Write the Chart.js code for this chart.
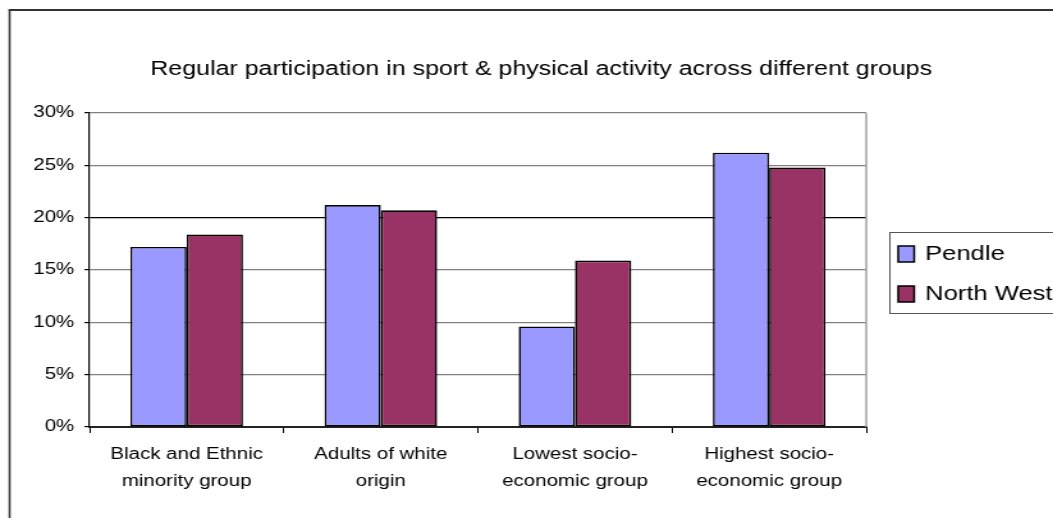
<!DOCTYPE html>
<html>
<head>
<meta charset="utf-8">
<script src="https://cdn.jsdelivr.net/npm/chart.js@4"></script>
<style>
  html, body { margin: 0; padding: 0; background: #fff; overflow: hidden; }
  /* the whole chart is laid out narrow and stretched sideways, like the old wide Excel text */
  #wrap { width: 823px; height: 518px; transform: scaleX(1.2795); transform-origin: 0 0; }
</style>
</head>
<body>
<div id="wrap"><canvas id="chart" width="823" height="518"></canvas></div>
<script>
const chartTitle = 'Regular participation in sport & physical activity across different groups';
const groups = [
  ['Black and Ethnic', 'minority group'],
  ['Adults of white', 'origin'],
  ['Lowest socio-', 'economic group'],
  ['Highest socio-', 'economic group']
];
const seriesNames = ['Pendle', 'North West'];
const seriesColors = ['#9999FF', '#993366'];
const pendle = [17.2, 21.2, 9.6, 26.2];
const northWest = [18.4, 20.7, 15.9, 24.8];
const yMax = 30;
const yStep = 5;

Chart.defaults.font.family = '"Liberation Sans", Arial, sans-serif';
Chart.defaults.color = '#000';

// outer frame, title, legend box and the grey right edge of the plot
const frame = {
  id: 'frame',
  beforeDraw(chart) {
    const ctx = chart.ctx;
    ctx.save();
    ctx.fillStyle = '#fff';
    ctx.fillRect(0, 0, chart.width, chart.height);
    ctx.strokeStyle = '#333';
    ctx.lineWidth = 1.6;
    ctx.beginPath();
    ctx.moveTo(7.5, chart.height + 5);
    ctx.lineTo(7.5, 10);
    ctx.stroke();
    ctx.lineWidth = 2;
    ctx.beginPath();
    ctx.moveTo(6.7, 10);
    ctx.lineTo(chart.width + 5, 10);
    ctx.stroke();
    ctx.restore();
  },
  beforeDatasetsDraw(chart) {
    const ctx = chart.ctx;
    const a = chart.chartArea;
    ctx.save();
    ctx.strokeStyle = '#a0a0a0';
    ctx.lineWidth = 1.5;
    ctx.beginPath();
    ctx.moveTo(a.right, a.top);
    ctx.lineTo(a.right, a.bottom);
    ctx.stroke();
    ctx.restore();
  },
  afterDraw(chart) {
    const ctx = chart.ctx;
    ctx.save();
    ctx.fillStyle = '#000';
    ctx.font = '19.5px "Liberation Sans", Arial, sans-serif';
    ctx.textAlign = 'center';
    ctx.textBaseline = 'middle';
    ctx.fillText(chartTitle, 423, 70);

    // legend
    ctx.strokeStyle = '#555';
    ctx.lineWidth = 1;
    ctx.strokeRect(695.5, 232.5, 260, 81);
    ctx.font = '20px "Liberation Sans", Arial, sans-serif';
    ctx.textAlign = 'left';
    const rows = [254, 294];
    chart.data.datasets.forEach((ds, i) => {
      ctx.fillStyle = ds.backgroundColor;
      ctx.fillRect(702, rows[i] - 8, 12.5, 16);
      ctx.strokeStyle = '#000';
      ctx.lineWidth = 1.5;
      ctx.strokeRect(702, rows[i] - 8, 12.5, 16);
      ctx.fillStyle = '#000';
      ctx.fillText(ds.label, 723, rows[i]);
    });
    ctx.restore();
  }
};

new Chart(document.getElementById('chart'), {
  type: 'bar',
  data: {
    labels: groups,
    datasets: [
      {
        label: seriesNames[0],
        data: pendle,
        backgroundColor: seriesColors[0],
        borderColor: '#000',
        borderWidth: 1.6,
        borderSkipped: false
      },
      {
        label: seriesNames[1],
        data: northWest,
        backgroundColor: seriesColors[1],
        borderColor: '#000',
        borderWidth: 1.6,
        borderSkipped: false
      }
    ]
  },
  options: {
    responsive: false,
    animation: false,
    layout: { padding: { top: 113, right: 146, left: 0, bottom: 0 } },
    datasets: { bar: { categoryPercentage: 0.58, barPercentage: 1 } },
    plugins: {
      legend: { display: false },
      title: { display: false },
      tooltip: { enabled: false }
    },
    scales: {
      x: {
        afterFit: s => { s.height = 91; },
        grid: {
          offset: true,
          drawOnChartArea: false,
          tickLength: 6,
          tickColor: '#000'
        },
        border: { color: '#222', width: 2 },
        ticks: {
          font: { size: 16, lineHeight: 1.7 },
          color: '#000',
          maxRotation: 0,
          padding: 8
        }
      },
      y: {
        min: 0,
        max: yMax,
        afterFit: s => { s.width = 70; },
        grid: {
          color: c => (c.tick && c.tick.value === 20 ? '#000' : '#808080'),
          lineWidth: 1.2,
          tickLength: 4,
          tickColor: '#000'
        },
        border: { color: '#000', width: 1.2 },
        ticks: {
          stepSize: yStep,
          padding: 8,
          font: { size: 16 },
          color: '#000',
          callback: v => v + '%'
        }
      }
    }
  },
  plugins: [frame]
});
</script>
</body>
</html>
